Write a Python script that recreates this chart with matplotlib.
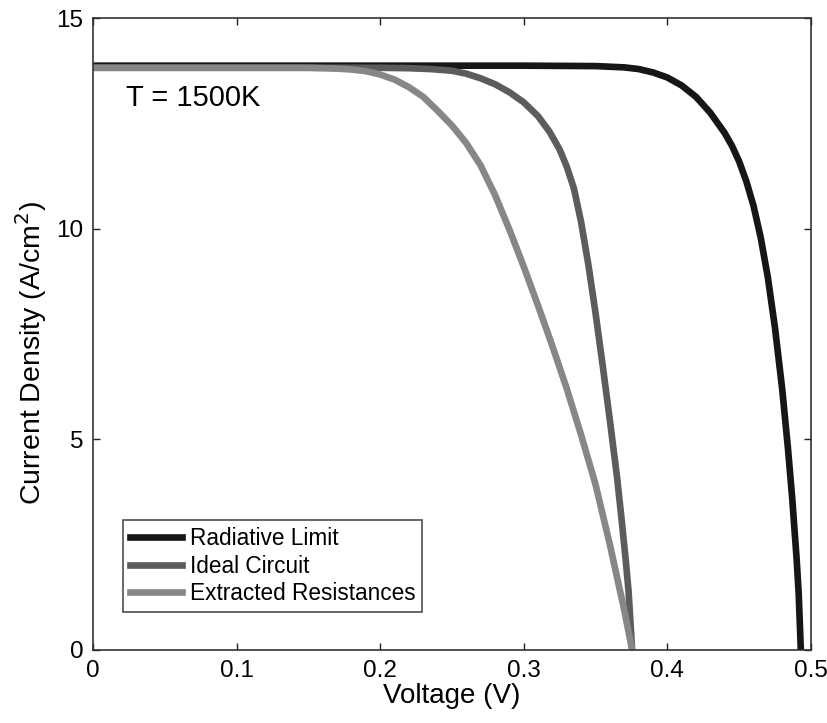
import matplotlib
matplotlib.use("Agg")
import matplotlib.pyplot as plt

plt.rcParams['font.family'] = ['Liberation Sans', 'DejaVu Sans']

# values
radiative_v = [0.0, 0.30, 0.35, 0.37, 0.38, 0.39, 0.40, 0.41, 0.42, 0.43,
               0.44, 0.445, 0.45, 0.455, 0.46, 0.465, 0.47, 0.475, 0.48,
               0.484, 0.487, 0.49, 0.4915, 0.493]
radiative_j = [13.87, 13.87, 13.86, 13.83, 13.79, 13.71, 13.59, 13.40, 13.13, 12.75,
               12.27, 11.97, 11.60, 11.13, 10.55, 9.80, 8.85, 7.65, 6.2,
               4.8, 3.6, 2.2, 1.35, 0.0]

ideal_v = [0.0, 0.20, 0.22, 0.235, 0.25, 0.26, 0.27, 0.28, 0.29, 0.30,
           0.31, 0.318, 0.325, 0.33, 0.335, 0.34, 0.345, 0.35, 0.355, 0.36,
           0.365, 0.368, 0.371, 0.373, 0.3755]
ideal_j = [13.82, 13.82, 13.81, 13.79, 13.75, 13.68, 13.57, 13.43, 13.24, 13.0,
           12.67, 12.3, 11.88, 11.47, 10.95, 10.15, 9.15, 8.0, 6.75, 5.45,
           4.1, 3.15, 2.15, 1.4, 0.0]

extracted_v = [0.0, 0.15, 0.17, 0.18, 0.19, 0.20, 0.21, 0.22, 0.23, 0.24,
               0.25, 0.26, 0.27, 0.28, 0.29, 0.30, 0.31, 0.32, 0.33, 0.34,
               0.35, 0.36, 0.37, 0.3755]
extracted_j = [13.82, 13.82, 13.80, 13.78, 13.74, 13.66, 13.54, 13.36, 13.13, 12.8,
               12.45, 12.03, 11.5, 10.8, 9.98, 9.1, 8.17, 7.21, 6.2, 5.1,
               3.93, 2.5, 0.95, 0.0]

x_ticks = [0, 0.1, 0.2, 0.3, 0.4, 0.5]
x_tick_labels = ["0", "0.1", "0.2", "0.3", "0.4", "0.5"]
y_ticks = [0, 5, 10, 15]

fig = plt.figure(figsize=(8.27, 7.23), dpi=100)
ax = fig.add_axes([0.1125, 0.101, 0.868, 0.874])

ax.plot(radiative_v, radiative_j, color="#161616", lw=4.8, label="Radiative Limit",
        solid_joinstyle="round")
ax.plot(ideal_v, ideal_j, color="#5c5c5c", lw=4.8, label="Ideal Circuit",
        solid_joinstyle="round")
ax.plot(extracted_v, extracted_j, color="#878787", lw=4.8, label="Extracted Resistances",
        solid_joinstyle="round")

ax.set_xlim(0, 0.5)
ax.set_ylim(0, 15)
ax.set_xticks(x_ticks)
ax.set_xticklabels(x_tick_labels)
ax.set_yticks(y_ticks)
ax.tick_params(direction="in", length=5, width=1, top=True, right=True,
               labelsize=17.5, pad=7, colors="#222222", labelcolor="black")
for s in ax.spines.values():
    s.set_linewidth(1.2)
    s.set_color("#333333")

ax.set_xlabel("Voltage (V)", fontsize=20, labelpad=1)
ax.set_ylabel("Current Density (A/cm$^2$)", fontsize=20.5)
ax.yaxis.set_label_coords(-0.062, 0.47)

ax.text(0.046, 0.861, "T = 1500K", transform=ax.transAxes, fontsize=21,
        va="baseline", ha="left")

leg = ax.legend(loc="lower left", bbox_to_anchor=(0.042, 0.06), fontsize=16.3,
                frameon=True, fancybox=False, handlelength=2.3,
                borderpad=0.3, labelspacing=0.2, handletextpad=0.35,
                borderaxespad=0)
leg.get_frame().set_edgecolor("#222222")
leg.get_frame().set_linewidth(1.2)

fig.savefig("out.png", dpi=100)
